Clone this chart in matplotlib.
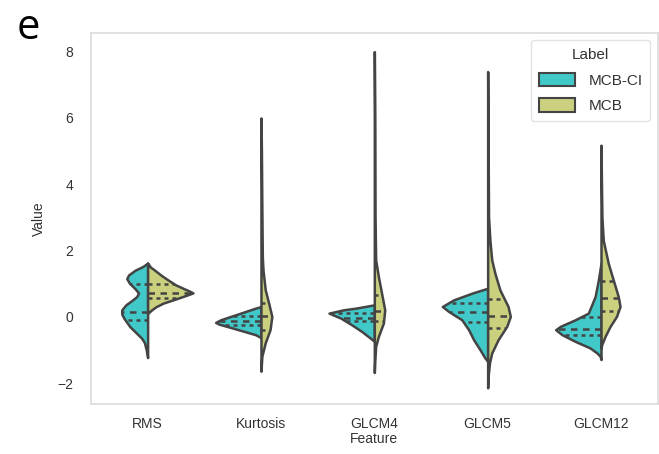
import matplotlib
matplotlib.use("Agg")
import matplotlib.pyplot as plt
from matplotlib.patches import Patch
import numpy as np

plt.rcParams["font.family"] = ["Liberation Sans", "DejaVu Sans"]


# ----------------------------------------------
# data (value, relative density)
# ----------------------------------------------
features = ["RMS", "Kurtosis", "GLCM4", "GLCM5", "GLCM12"]
labels = ["MCB-CI", "MCB"]

rms_ci_v = [1.62, 1.52, 1.40, 1.26, 1.15, 1.01, 0.85, 0.72, 0.61, 0.51, 0.36, 0.21, 0.08,
            -0.05, -0.30, -0.50, -0.65, -0.78, -1.00, -1.23]
rms_ci_w = [0.0, 0.10, 0.28, 0.42, 0.46, 0.40, 0.28, 0.20, 0.24, 0.33, 0.48, 0.57, 0.57,
            0.52, 0.39, 0.24, 0.13, 0.07, 0.03, 0.0]
rms_ci_q = [-0.09, 0.15, 0.99]
rms_mcb_v = [1.62, 1.50, 1.41, 1.25, 1.11, 0.96, 0.86, 0.77, 0.72, 0.66, 0.56, 0.41, 0.30, 0.21, 0.10]
rms_mcb_w = [0.0, 0.06, 0.15, 0.30, 0.45, 0.62, 0.78, 0.93, 1.0, 0.88, 0.67, 0.34, 0.18, 0.09, 0.0]
rms_mcb_q = [0.56, 0.73, 0.99]

kurt_ci_v = [0.31, 0.26, 0.21, 0.06, -0.09, -0.17, -0.22, -0.29, -0.44, -0.54, -0.63]
kurt_ci_w = [0.0, 0.12, 0.23, 0.56, 0.89, 1.0, 0.93, 0.75, 0.37, 0.12, 0.0]
kurt_ci_q = [-0.24, -0.12, 0.01]
kurt_mcb_v = [5.99, 5.0, 3.2, 1.8, 1.41, 1.10, 0.81, 0.41, 0.01, -0.39, -0.78, -1.19, -1.64]
kurt_mcb_w = [0.0, 0.01, 0.02, 0.03, 0.045, 0.07, 0.095, 0.17, 0.24, 0.20, 0.095, 0.02, 0.0]
kurt_mcb_q = [-0.39, 0.01, 0.43]

g4_ci_v = [0.36, 0.26, 0.21, 0.11, 0.04, -0.04, -0.24, -0.44, -0.64, -0.74]
g4_ci_w = [0.0, 0.41, 0.68, 1.0, 0.88, 0.74, 0.50, 0.28, 0.09, 0.0]
g4_ci_q = [-0.14, -0.04, 0.11]
g4_mcb_v = [7.99, 6.0, 3.0, 1.71, 1.21, 0.71, 0.21, -0.19, -0.59, -0.89, -1.30, -1.68]
g4_mcb_w = [0.0, 0.01, 0.015, 0.03, 0.09, 0.16, 0.23, 0.20, 0.09, 0.03, 0.01, 0.0]
g4_mcb_q = [-0.14, 0.16, 0.66]

g5_ci_v = [0.86, 0.71, 0.51, 0.31, 0.16, -0.09, -0.39, -0.69, -0.99, -1.24, -1.34]
g5_ci_w = [0.0, 0.35, 0.75, 1.0, 0.86, 0.57, 0.42, 0.31, 0.17, 0.06, 0.0]
g5_ci_q = [-0.16, 0.13, 0.41]
g5_mcb_v = [7.39, 5.0, 3.0, 2.3, 1.71, 1.31, 0.81, 0.31, 0.01, -0.29, -0.69, -1.09, -1.39, -1.80, -2.14]
g5_mcb_w = [0.0, 0.01, 0.02, 0.05, 0.09, 0.16, 0.27, 0.45, 0.50, 0.42, 0.23, 0.09, 0.04, 0.01, 0.0]
g5_mcb_q = [-0.34, 0.01, 0.53]

g12_ci_v = [1.61, 1.10, 0.61, 0.11, -0.09, -0.29, -0.39, -0.54, -0.74, -0.94, -1.09, -1.19, -1.29]
g12_ci_w = [0.0, 0.06, 0.13, 0.28, 0.57, 0.90, 1.0, 0.86, 0.57, 0.24, 0.09, 0.02, 0.0]
g12_ci_q = [-0.54, -0.37, -0.02]
g12_mcb_v = [5.17, 4.0, 3.0, 2.3, 1.61, 1.11, 0.61, 0.31, 0.01, -0.29, -0.59, -0.84, -0.95]
g12_mcb_w = [0.0, 0.01, 0.02, 0.05, 0.16, 0.27, 0.38, 0.42, 0.34, 0.20, 0.09, 0.015, 0.0]
g12_mcb_q = [0.18, 0.58, 1.09]

ci_halves = [(rms_ci_v, rms_ci_w, rms_ci_q), (kurt_ci_v, kurt_ci_w, kurt_ci_q),
             (g4_ci_v, g4_ci_w, g4_ci_q), (g5_ci_v, g5_ci_w, g5_ci_q),
             (g12_ci_v, g12_ci_w, g12_ci_q)]
mcb_halves = [(rms_mcb_v, rms_mcb_w, rms_mcb_q), (kurt_mcb_v, kurt_mcb_w, kurt_mcb_q),
              (g4_mcb_v, g4_mcb_w, g4_mcb_q), (g5_mcb_v, g5_mcb_w, g5_mcb_q),
              (g12_mcb_v, g12_mcb_w, g12_mcb_q)]

CI_COLOR = "#41c8c8"
MCB_COLOR = "#cbd07f"
GRAY = "#444444"
HALF = 0.4
LW = 1.8


def half_violin(ax, pos, v, w, q, color, side):
    v = np.asarray(v)
    w = np.asarray(w) * HALF
    ax.fill_betweenx(v, pos, pos + side * w, facecolor=color,
                     edgecolor=GRAY, linewidth=LW, joinstyle="round", zorder=2)
    order = np.argsort(v)
    for i, val in enumerate(q):
        wq = np.interp(val, v[order], w[order])
        dash = (2.6, 2.2) if i == 1 else (1.6, 1.6)
        ax.plot([pos, pos + side * wq], [val, val], color=GRAY,
                linewidth=LW, dashes=dash, solid_capstyle="butt", zorder=3)


fig = plt.figure(figsize=(6.59, 4.54), dpi=100)
ax = fig.add_axes([0.138, 0.110, 0.860, 0.818])

for i in range(len(features)):
    v, w, q = ci_halves[i]
    half_violin(ax, i, v, w, q, CI_COLOR, -1)
    v, w, q = mcb_halves[i]
    half_violin(ax, i, v, w, q, MCB_COLOR, 1)

ax.set_xlim(-0.5, 4.5)
ax.set_ylim(-2.63, 8.56)
ax.set_xticks(range(len(features)))
ax.set_xticklabels(features)
ax.set_yticks([-2, 0, 2, 4, 6, 8])
ax.tick_params(length=0, labelsize=10, labelcolor="#333333")
ax.tick_params(axis="x", pad=9)
ax.tick_params(axis="y", pad=13)
ax.set_xlabel("Feature", fontsize=10, color="#333333", labelpad=1)
ax.set_ylabel("Value", fontsize=10, color="#333333", labelpad=8)
for s in ax.spines.values():
    s.set_color("#dcdcdc")
    s.set_linewidth(1.2)

handles = [Patch(facecolor=CI_COLOR, edgecolor=GRAY, linewidth=1.5),
           Patch(facecolor=MCB_COLOR, edgecolor=GRAY, linewidth=1.5)]
leg = ax.legend(handles, labels, title="Label", loc="upper right",
                fontsize=11, title_fontsize=11, frameon=True,
                borderaxespad=0.5, handlelength=2.35, handleheight=1.0,
                handletextpad=0.9, labelspacing=0.7, borderpad=0.5)
leg.get_frame().set_edgecolor("#dcdcdc")
for t in leg.get_texts():
    t.set_color("#333333")
leg.get_title().set_color("#333333")

fig.text(0.025, 0.985, "e", fontsize=30, family="Open Sans", va="top", ha="left")

fig.savefig("out.png", dpi=100)
